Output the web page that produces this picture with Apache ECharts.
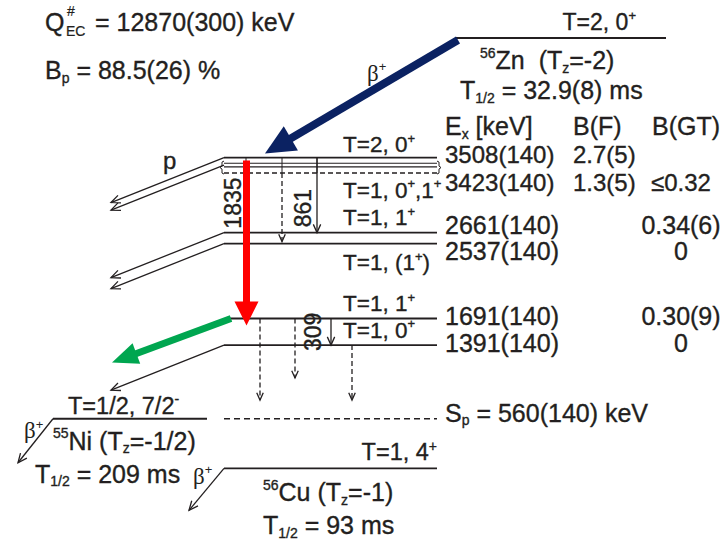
<!DOCTYPE html>
<html><head><meta charset="utf-8">
<script src="https://cdn.jsdelivr.net/npm/echarts@6/dist/echarts.min.js"></script>
<style>html,body{margin:0;padding:0;background:#fff}#main{width:725px;height:541px}</style>
</head><body><div id="main"></div>
<script>
// ---------------- data ----------------
const levelEnergies = [3508, 3423, 2661, 2537, 1691, 1391];      // keV, 56Cu levels
const levelUnc      = [140, 140, 140, 140, 140, 140];
const levelIsospin  = ['2', '1', '1', '1', '1', '1'];
const levelJpi      = ['0{sup|+}', '0{sup|+},1{sup|+}', '1{sup|+}', '(1{sup|+})', '1{sup|+}', '0{sup|+}'];
const bF            = ['2.7(5)', '1.3(5)', '', '', '', ''];
const bGT           = ['', '≤0.32', '0.34(6)', '0', '0.30(9)', '0'];
const gammaFrom     = [3508, 3508, 3423, 1691];
const gammaTo       = [1691, 2661, 2537, 1391];
const gammaLabel    = ['1835', '861', '', '309'];
const feedFrom      = [1691, 1691, 1391];   // dashed (unplaced) gamma arrows
const feedTo        = [770, 1020, 770];
const protonFrom    = [3508, 3423, 2661, 2537, 1691, 1391];
const spEnergy      = 560, spUnc = 140;
const cuGround      = 0;
const znDrawnAt     = 4857;                 // 56Zn g.s. drawn above a broken axis
const qEC           = '12870(300)';
const bpValue       = '88.5(26)';
const znHalfLife    = '32.9(8)', niHalfLife = '209', cuHalfLife = '93';

// ---------------- styles ----------------
const INK = '#231f20', NAVY = '#0b2262', RED = '#ff0000', GREEN = '#00a650';
const FONT = '"Liberation Sans", Arial, Helvetica, sans-serif';
const FS = 25;      // main text
const FSL = 22.5;   // level labels

const chart = echarts.init(document.getElementById('main'), null, {renderer: 'svg'});

function renderItem(params, api) {
  const C = [];
  const yOf = E => api.coord([0, E])[1];
  const rich = fs => ({
    sup: {fontSize: Math.round(fs * 0.58), verticalAlign: 'top', fontFamily: FONT, fill: INK},
    sub: {fontSize: Math.round(fs * 0.58), verticalAlign: 'bottom', fontFamily: FONT, fill: INK},
    g:   {fontSize: fs, fontFamily: '"Liberation Serif", "DejaVu Serif", serif', fill: INK}
  });
  function text(x, y, s, o) {
    o = o || {};
    const fs = o.fs || FS;
    const hasRich = s.indexOf('{') >= 0;
    const lh = o.lh || (hasRich ? Math.round(fs * 1.15) : Math.round(fs * 0.88));
    C.push({type: 'text', x: x, y: y, rotation: o.rot || 0,
      style: {text: s, fontSize: fs, fontFamily: FONT, fill: o.fill || INK,
              stroke: INK, lineWidth: o.bw == null ? 0.35 : o.bw,
              align: o.align || 'left', verticalAlign: 'middle', lineHeight: lh, rich: rich(fs)}});
  }
  function seg(x1, y1, x2, y2, st) {
    C.push({type: 'line', shape: {x1, y1, x2, y2},
      style: Object.assign({stroke: INK, lineWidth: 1.3}, st || {})});
  }
  function poly(points, st) {
    C.push({type: 'polyline', shape: {points},
      style: Object.assign({stroke: INK, lineWidth: 1.3, fill: null}, st || {})});
  }
  function headPts(tail, tip, len, ang) {
    const dx = tip[0] - tail[0], dy = tip[1] - tail[1], L = Math.hypot(dx, dy);
    const bx = -dx / L, by = -dy / L;
    const r = a => [tip[0] + len * (bx * Math.cos(a) - by * Math.sin(a)),
                    tip[1] + len * (bx * Math.sin(a) + by * Math.cos(a))];
    return [r(ang), tip, r(-ang)];
  }
  function thinArrow(tail, tip, st, len) {
    seg(tail[0], tail[1], tip[0], tip[1], st);
    poly(headPts(tail, tip, len || 10, 0.42), {lineWidth: 1.3});
  }
  function thickArrow(tail, tip, w, hl, hw, color) {
    const dx = tip[0] - tail[0], dy = tip[1] - tail[1], L = Math.hypot(dx, dy);
    const ux = dx / L, uy = dy / L, px = -uy, py = ux;
    const bx = tip[0] - ux * hl, by = tip[1] - uy * hl;
    seg(tail[0], tail[1], bx + ux * 2, by + uy * 2, {stroke: color, lineWidth: w});
    C.push({type: 'polygon', shape: {points: [tip, [bx + px * hw, by + py * hw], [bx - px * hw, by - py * hw]]},
      style: {fill: color}});
  }

  const LX0 = 224, LX1 = 437;
  const levelStartX = [224, 224, 224, 224, 230, 224];
  // ---- 56Cu levels ----
  levelEnergies.forEach((E, i) => {
    const y = yOf(E);
    if (i === 1) {
      seg(levelStartX[i], y - 1.8, LX1, y - 1.8, {lineWidth: 1.2});
      seg(levelStartX[i], y + 1.8, LX1, y + 1.8, {lineWidth: 1.2});
      seg(levelStartX[i], y + 8, LX1, y + 8, {lineWidth: 1.5, lineDash: [5, 3]});
    } else {
      seg(levelStartX[i], y, LX1, y, {lineWidth: 1.8});
    }
  });
  // brackets round the 3423 doublet
  const yb = yOf(levelEnergies[1]);
  poly([[224, yb - 4], [222, yb - 3], [222, yb + 1], [220, yb + 2.5], [222, yb + 4], [222, yb + 8], [224, yb + 9]], {lineWidth: 1});
  poly([[437, yb - 4], [439, yb - 3], [439, yb + 1], [441, yb + 2.5], [439, yb + 4], [439, yb + 8], [437, yb + 9]], {lineWidth: 1});
  // short vertical ticks inside the band
  [246, 282, 317].forEach(x => seg(x, yOf(levelEnergies[0]), x, yb + 8, {lineWidth: 1}));

  // Sp line and Ni, Cu ground states
  const ySp = yOf(spEnergy);
  seg(LX0, ySp, LX1, ySp, {lineWidth: 1.5, lineDash: [6, 4]});
  seg(53, ySp, 207, ySp, {lineWidth: 1.8});
  const yCu = yOf(cuGround);
  seg(LX0, yCu, LX1, yCu, {lineWidth: 1.8});
  const yZn = yOf(znDrawnAt);
  seg(456, yZn, 666, yZn, {lineWidth: 1.8});

  // ---- proton branches ----
  protonFrom.forEach((E, i) => {
    const y = yOf(E);
    if (E === 1691) {
      thickArrow([231, y], [112, y + 44], 7, 26, 11, GREEN);
    } else {
      thinArrow([levelStartX[i], y], [111, y + 45]);
    }
  });

  // ---- gammas ----
  const gammaX = [246.5, 317, 282, 331];
  gammaFrom.forEach((E0, i) => {
    const x = gammaX[i];
    const E1 = gammaTo[i];
    if (i === 0) {
      thickArrow([x, yOf(E0) + 3], [x, yOf(E1) + 7], 7, 24, 12, RED);
    } else if (i === 2) {
      thinArrow([x, yb + 8], [x, yOf(E1) - 2], {lineDash: [5, 3]}, 8);
    } else {
      thinArrow([x, yOf(E0)], [x, yOf(E1)], {}, 9);
    }
  });
  const feedX = [260, 295, 352];
  feedFrom.forEach((E0, i) => {
    thinArrow([feedX[i], yOf(E0)], [feedX[i], yOf(feedTo[i])], {lineDash: [5, 3]}, 8);
  });
  text(233, (yOf(gammaFrom[0]) + yOf(2661)) / 2 + 8, gammaLabel[0], {rot: Math.PI / 2, align: 'center', fs: 23});
  text(303, (yOf(gammaFrom[1]) + yOf(2661)) / 2 + 13, gammaLabel[1], {rot: Math.PI / 2, align: 'center', fs: 23});
  text(313, (yOf(gammaFrom[3]) + yOf(gammaTo[3])) / 2, gammaLabel[3], {rot: Math.PI / 2, align: 'center', fs: 23});

  // ---- beta decays ----
  thickArrow([458, yZn + 2], [265, yOf(levelEnergies[0]) - 4], 8, 30, 14, NAVY);
  text(367, 73, '{g|β}{sup|+}', {fs: 23, bw: 0});
  thinArrow([53, ySp], [18, ySp + 44]);
  text(24, ySp + 12, '{g|β}{sup|+}', {fs: 23, bw: 0});
  thinArrow([224, yCu], [189, yCu + 42]);
  text(193, yCu + 8, '{g|β}{sup|+}', {fs: 23, bw: 0});
  text(163, 160, 'p', {fs: 24});

  // ---- level labels ----
  const labelDy = [-13, 25, -15, 19, -15, -15];
  const exDy = [-3, 17, -8, 7, -3, -2];
  const rowFs = [24, 24, FS, FS, FS, FS];
  levelEnergies.forEach((E, i) => {
    const y = yOf(E);
    text(343, y + labelDy[i], 'T=' + levelIsospin[i] + ', ' + levelJpi[i], {fs: FSL});
    text(445, y + exDy[i], E + '(' + levelUnc[i] + ')', {fs: rowFs[i]});
    if (bF[i]) text(573, y + exDy[i], bF[i], {fs: rowFs[i]});
    if (bGT[i]) text(681, y + exDy[i], bGT[i], {align: 'center', fs: rowFs[i]});
  });
  text(445, 126, 'E{sub|x} [keV]');
  text(573, 126, 'B(F)');
  text(652, 126, 'B(GT)');
  text(445, ySp - 6, 'S{sub|p} = ' + spEnergy + '(' + spUnc + ') keV');

  // 56Zn
  text(636, yZn - 16, 'T=2, 0{sup|+}', {align: 'right', fs: 23});
  text(480, yZn + 22, '{sup|56}Zn  (T{sub|z}=-2)');
  text(460, yZn + 52, 'T{sub|1/2} = ' + znHalfLife + ' ms');
  // 55Ni
  text(68, ySp - 13, 'T=1/2, 7/2{sup|-}', {fs: 23.5});
  text(53, ySp + 22, '{sup|55}Ni (T{sub|z}=-1/2)');
  text(35, ySp + 55, 'T{sub|1/2} = ' + niHalfLife + ' ms');
  // 56Cu
  text(437, yCu - 16, 'T=1, 4{sup|+}', {align: 'right', fs: 23.5});
  text(263, yCu + 24, '{sup|56}Cu (T{sub|z}=-1)');
  text(263, yCu + 57, 'T{sub|1/2} = ' + cuHalfLife + ' ms');

  // header
  text(45, 22, 'Q');
  text(67, 11, '#', {fs: 14, bw: 0.2});
  text(66, 31, 'EC', {fs: 14, bw: 0.2});
  text(95, 22, '= ' + qEC + ' keV');
  text(45, 70, 'B{sub|p} = ' + bpValue + ' %');

  return {type: 'group', children: C};
}

chart.setOption({
  animation: false,
  grid: {left: 0, right: 0, top: 0, bottom: 0},
  xAxis: {type: 'value', min: 0, max: 725, show: false},
  yAxis: {type: 'value', min: -820, max: 5286, show: false},
  series: [{type: 'custom', renderItem: renderItem, data: [[0, 0]], clip: false, silent: true}]
});
</script>
</body></html>
